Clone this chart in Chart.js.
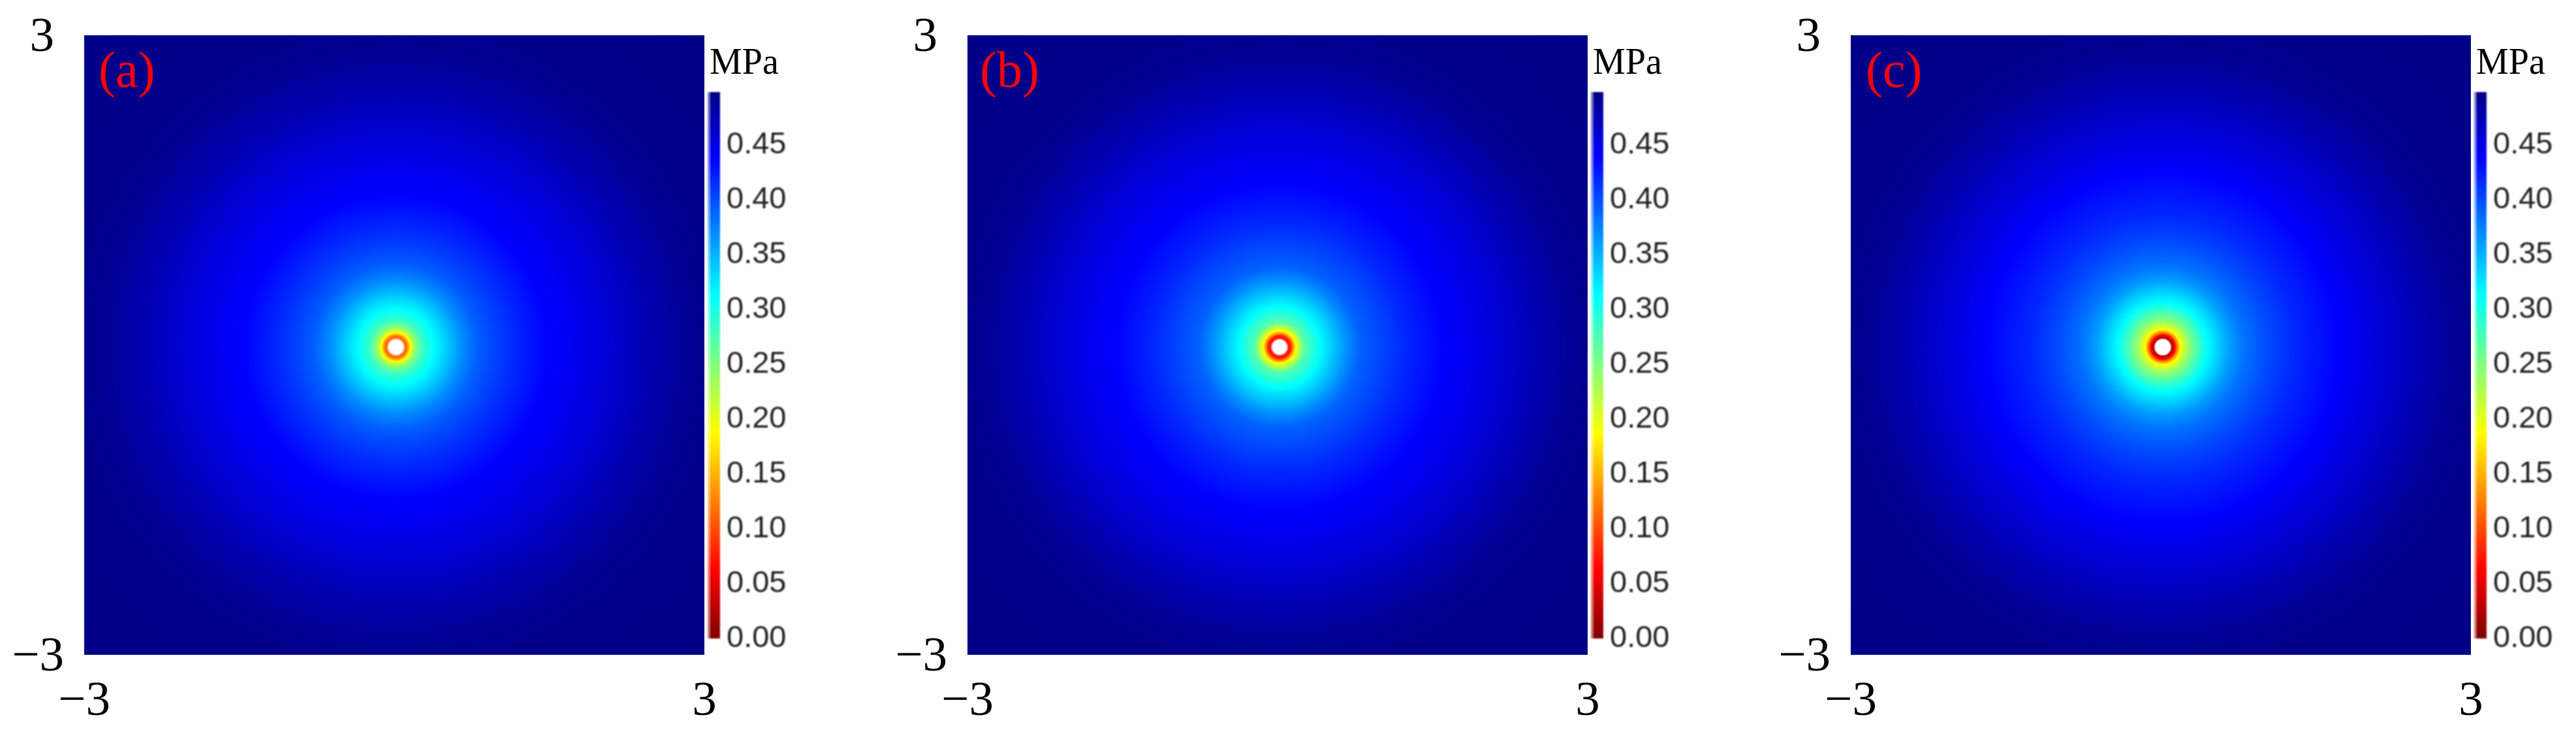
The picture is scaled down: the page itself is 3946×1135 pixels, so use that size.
<!DOCTYPE html>
<html>
<head>
<meta charset="utf-8">
<title>MPa</title>
<script src="https://cdn.jsdelivr.net/npm/chart.js@4"></script>
<style>
  html, body { margin: 0; padding: 0; background: #fff; overflow: hidden; }
  canvas { position: absolute; top: 0; }
</style>
</head>
<body>
<script>
const panelLabels = ['(a)', '(b)', '(c)'];
const axisTicks = [-3, 3];
const unitLabel = 'MPa';
const colorbarTicks = [0, 0.05, 0.1, 0.15, 0.2, 0.25, 0.3, 0.35, 0.4, 0.45];
const colorbarRange = [0, 0.498];

// jet colormap
const jetValues = [0, 0.0625, 0.1875, 0.3125, 0.4375, 0.5];
const jetColors = [[128, 0, 0], [255, 0, 0], [255, 255, 0], [0, 255, 255], [0, 0, 255], [0, 0, 128]];

// centre of the hole in plot units
const centerA = [0.016, -0.02];
const centerB = [0.019, -0.02];
const centerC = [0.019, -0.02];

// radial stress profile: distance from the hole, stress in MPa (null = hole, white)
const radiiA = [0.065, 0.095, 0.115, 0.14, 0.19, 0.26, 0.366, 0.63, 0.80, 1.0, 1.18, 1.47, 1.64, 2.02, 2.44, 2.84, 3.02, 4.3];
const stressA = [null, 0.11, 0.135, 0.1875, 0.245, 0.285, 0.3125, 0.367, 0.392, 0.408, 0.42, 0.4375, 0.4425, 0.457, 0.476, 0.49, 0.494, 0.497];

const radiiB = [0.065, 0.09, 0.11, 0.13, 0.158, 0.24, 0.39, 0.645, 0.78, 1.2, 1.58, 1.8, 2.1, 2.5, 2.84, 3.02, 4.3];
const stressB = [null, 0.07, 0.08, 0.13, 0.1875, 0.27, 0.3125, 0.367, 0.39, 0.418, 0.4375, 0.445, 0.457, 0.476, 0.49, 0.494, 0.497];

const radiiC = [0.07, 0.09, 0.115, 0.14, 0.17, 0.24, 0.33, 0.43, 0.645, 0.78, 1.0, 1.27, 1.7, 2.1, 2.5, 2.84, 3.02, 4.3];
const stressC = [null, 0.025, 0.0625, 0.125, 0.1875, 0.235, 0.275, 0.3125, 0.36, 0.38, 0.40, 0.418, 0.4375, 0.457, 0.476, 0.49, 0.494, 0.497];

const panels = [
  { label: panelLabels[0], center: centerA, radii: radiiA, stress: stressA, left: 0, labelX: 22 },
  { label: panelLabels[1], center: centerB, radii: radiiB, stress: stressB, left: 1353, labelX: 19 },
  { label: panelLabels[2], center: centerC, radii: radiiC, stress: stressC, left: 2706, labelX: 23 }
];

const SERIF = '"Liberation Serif", serif';
const SANS = '"Liberation Sans", sans-serif';

function jetRgb(v) {
  let i = 0;
  while (i < jetValues.length - 2 && v > jetValues[i + 1]) i++;
  const t = Math.min(1, Math.max(0, (v - jetValues[i]) / (jetValues[i + 1] - jetValues[i])));
  return jetColors[i].map((c, k) => Math.round(c + (jetColors[i + 1][k] - c) * t));
}

function jetCss(v, alpha) {
  const rgb = v === null ? [255, 255, 255] : jetRgb(v);
  return 'rgba(' + rgb.join(',') + ',' + (alpha === undefined ? 1 : alpha) + ')';
}

function ringRadius(ctx) {
  if (!ctx.raw) return 0;
  const x = ctx.chart.scales.x;
  const r = Math.abs(x.getPixelForValue(ctx.raw.dist) - x.getPixelForValue(0));
  return isFinite(r) ? r : 0;
}

// each ring shades from the value of the next inner ring to its own value
function ringFill(ctx) {
  if (!ctx.raw) return '#000080';
  const next = ctx.dataset.data[ctx.dataIndex + 1];
  if (!next) return jetCss(ctx.raw.v);
  const sx = ctx.chart.scales.x;
  const sy = ctx.chart.scales.y;
  const px = sx.getPixelForValue(ctx.raw.x);
  const py = sy.getPixelForValue(ctx.raw.y);
  const r0 = Math.abs(sx.getPixelForValue(next.dist) - sx.getPixelForValue(0));
  const r1 = ringRadius(ctx);
  // scales are not laid out yet on the first pass
  if (![px, py, r0].every(isFinite) || r1 <= 0) return jetCss(ctx.raw.v);
  const g = ctx.chart.ctx.createRadialGradient(px, py, r0, px, py, r1);
  g.addColorStop(0, jetCss(next.v));
  g.addColorStop(1, jetCss(ctx.raw.v));
  return g;
}

const panelText = {
  id: 'panelText',
  afterDraw(chart, args, opts) {
    const c = chart.ctx;
    c.save();
    c.textBaseline = 'alphabetic';
    c.textAlign = 'left';
    c.fillStyle = '#ff0000';
    c.font = '78px ' + SERIF;
    c.fillText(opts.label, chart.chartArea.left + opts.labelX, 133);
    c.fillStyle = '#000';
    c.font = '56px ' + SERIF;
    c.fillText(unitLabel, chart.chartArea.right + 8, 113);
    c.restore();
  }
};

function addCanvas(left, width) {
  const canvas = document.createElement('canvas');
  canvas.width = width;
  canvas.height = 1135;
  canvas.style.left = left + 'px';
  document.body.appendChild(canvas);
  return canvas.getContext('2d');
}

function makePanel(p) {
  const rings = p.radii.map((r, i) => ({ x: p.center[0], y: p.center[1], dist: r, v: p.stress[i] })).reverse();
  new Chart(addCanvas(p.left, 1240), {
    type: 'scatter',
    data: {
      datasets: [{
        label: p.label,
        data: rings,
        clip: 0,
        pointRadius: ringRadius,
        pointHoverRadius: ringRadius,
        pointBackgroundColor: ringFill,
        pointBorderWidth: 0
      }]
    },
    plugins: [panelText],
    options: {
      responsive: false,
      animation: false,
      layout: { padding: { top: 54, right: 161, bottom: 0, left: 0 } },
      plugins: {
        legend: { display: false },
        tooltip: { enabled: false },
        panelText: { label: p.label, labelX: p.labelX }
      },
      scales: {
        x: {
          type: 'linear',
          min: axisTicks[0],
          max: axisTicks[1],
          grid: { display: false },
          border: { display: false },
          afterFit(scale) {
            scale.height = 132;
            scale.paddingLeft = 0;
            scale.paddingRight = 0;
          },
          afterBuildTicks(scale) { scale.ticks = axisTicks.map(v => ({ value: v })); },
          ticks: {
            padding: 19,
            maxRotation: 0,
            color: '#000',
            font: { family: SERIF, size: 75 },
            callback: v => (v < 0 ? '\u2212' + Math.abs(v) : String(v))
          }
        },
        y: {
          type: 'linear',
          min: axisTicks[0],
          max: axisTicks[1],
          grid: { display: false },
          border: { display: false },
          afterFit(scale) {
            scale.width = 129;
            scale.paddingTop = 0;
            scale.paddingBottom = 0;
          },
          afterBuildTicks(scale) { scale.ticks = axisTicks.map(v => ({ value: v })); },
          ticks: {
            padding: 23,
            labelOffset: 4,
            color: '#000',
            font: { family: SERIF, size: 75 },
            callback: v => (v < 0 ? '\u2212' + Math.abs(v) : v + '\u2009')
          }
        }
      }
    }
  });
}

function colorbarFill(alpha) {
  return ctx => {
    const y = ctx.chart.scales.y;
    const y0 = y.getPixelForValue(0);
    const y1 = y.getPixelForValue(colorbarRange[1]);
    if (!isFinite(y0) || !isFinite(y1)) return jetCss(0, alpha);
    const g = ctx.chart.ctx.createLinearGradient(0, y0, 0, y1);
    jetValues.forEach(v => {
      const t = v / colorbarRange[1];
      if (t <= 1) g.addColorStop(t, jetCss(v, alpha));
    });
    g.addColorStop(1, jetCss(colorbarRange[1], alpha));
    return g;
  };
}

function makeColorbar(p) {
  const ctx = addCanvas(p.left + 1084, 156);
  ctx.canvas.style.filter = 'blur(1px)';
  new Chart(ctx, {
    type: 'bar',
    data: {
      labels: [unitLabel],
      datasets: [{
        data: [colorbarRange],
        backgroundColor: colorbarFill(1),
        borderColor: colorbarFill(0.5),
        borderWidth: { left: 4, right: 0, top: 0, bottom: 0 },
        borderSkipped: false,
        barPercentage: 1,
        categoryPercentage: 1
      }]
    },
    options: {
      responsive: false,
      animation: false,
      layout: { padding: { top: 141, right: 0, bottom: 157, left: 0 } },
      plugins: { legend: { display: false }, tooltip: { enabled: false } },
      scales: {
        x: { display: false },
        y: {
          position: 'right',
          min: colorbarRange[0],
          max: colorbarRange[1],
          grid: { display: false },
          border: { display: false },
          afterFit(scale) { scale.width = 137; },
          afterBuildTicks(scale) { scale.ticks = colorbarTicks.map(v => ({ value: v })); },
          ticks: {
            padding: 2,
            color: '#222',
            font: { family: SANS, size: 47 },
            callback: v => v.toFixed(2)
          }
        }
      }
    }
  });
}

panels.forEach(p => {
  makePanel(p);
  makeColorbar(p);
});
</script>
</body>
</html>
